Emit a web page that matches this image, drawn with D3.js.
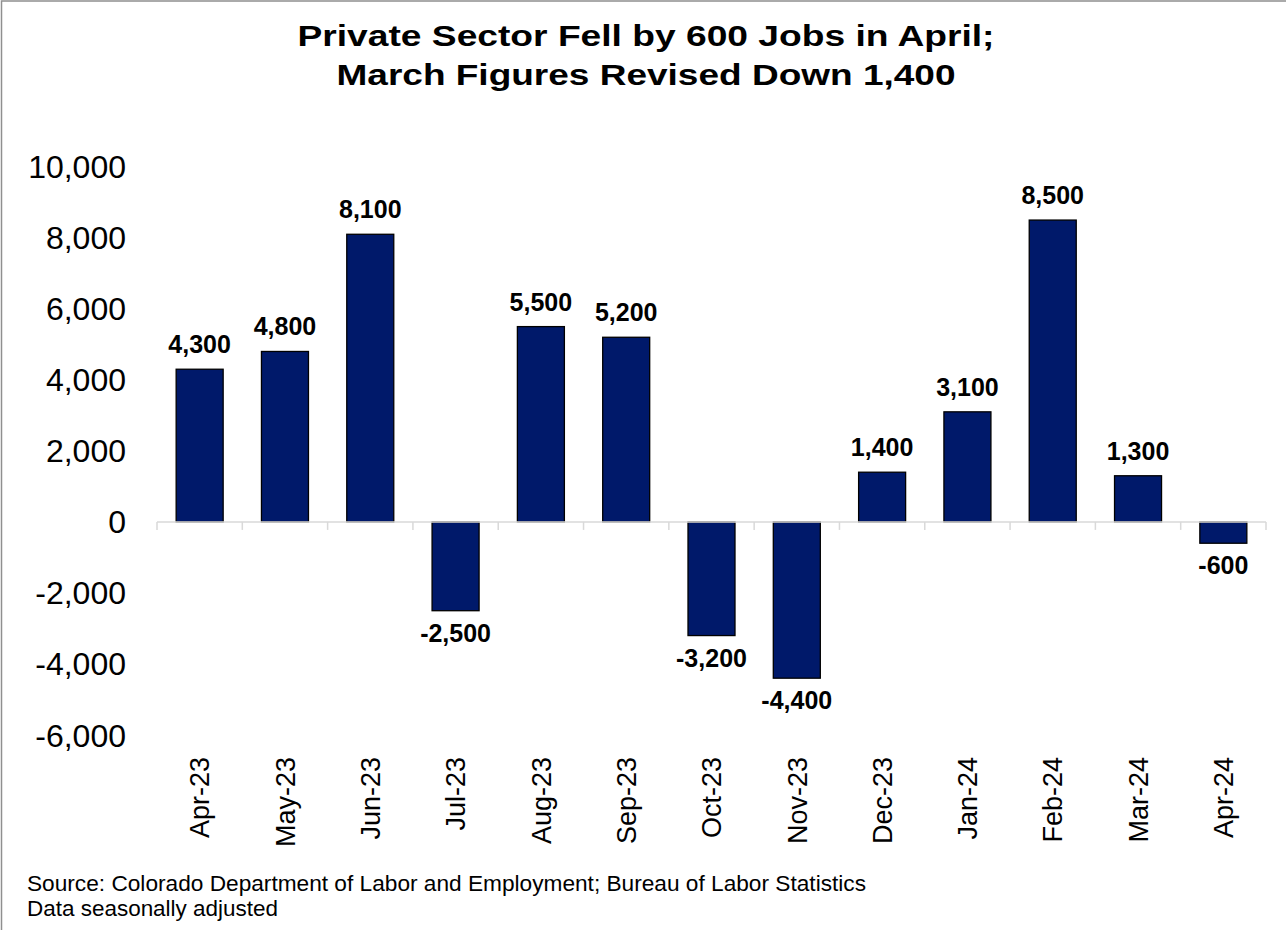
<!DOCTYPE html>
<html>
<head>
<meta charset="utf-8">
<script src="https://cdn.jsdelivr.net/npm/d3@7"></script>
<style>
  html, body { margin: 0; padding: 0; background: #fff; }
  svg { display: block; font-family: Arial, "Liberation Sans", sans-serif; }
</style>
</head>
<body>
<svg id="chart" width="1286" height="930"></svg>
<script>
const categories = ["Apr-23","May-23","Jun-23","Jul-23","Aug-23","Sep-23","Oct-23","Nov-23","Dec-23","Jan-24","Feb-24","Mar-24","Apr-24"];
const values = [4300, 4800, 8100, -2500, 5500, 5200, -3200, -4400, 1400, 3100, 8500, 1300, -600];
const yTicks = [-6000, -4000, -2000, 0, 2000, 4000, 6000, 8000, 10000];
const titleLines = ["Private Sector Fell by 600 Jobs in April;", "March Figures Revised Down 1,400"];
const footerLines = ["Source: Colorado Department of Labor and Employment; Bureau of Labor Statistics", "Data seasonally adjusted"];

const svg = d3.select("#chart");
const W = 1286, H = 930;

const loc = d3.formatLocale({decimal: ".", thousands: ",", grouping: [3], currency: ["$", ""], minus: "-"});
const fmt = loc.format(",");

// border (only left/top visible in reference)
svg.append("rect").attr("x", 1.5).attr("y", 1).attr("width", 1400).attr("height", 1100)
  .attr("fill", "#fff").attr("stroke", "#8f8f8f").attr("stroke-width", 1.5);

// title
const titleW = [697, 619];
svg.append("g").selectAll("text").data(titleLines).join("text")
  .attr("x", 646).attr("y", (d, i) => 46 + i * 38.5)
  .attr("text-anchor", "middle")
  .attr("font-size", 30).attr("font-weight", "bold").attr("fill", "#000")
  .attr("textLength", (d, i) => titleW[i]).attr("lengthAdjust", "spacingAndGlyphs")
  .text(d => d);

const x = d3.scaleBand().domain(categories).range([157, 1266]).padding(0);
const y = d3.scaleLinear().domain([-6000, 10000]).range([735, 166.8]);
const barW = x.bandwidth() * 0.551;

// y tick labels
svg.append("g").selectAll("text").data(yTicks).join("text")
  .attr("x", 126).attr("y", d => y(d)).attr("dy", "0.36em")
  .attr("text-anchor", "end").attr("font-size", 32).attr("fill", "#000")
  .text(d => fmt(d));

// bars
svg.append("g").selectAll("rect").data(values).join("rect")
  .attr("x", (d, i) => x(categories[i]) + (x.bandwidth() - barW) / 2)
  .attr("y", d => y(Math.max(0, d)))
  .attr("width", barW)
  .attr("height", d => Math.abs(y(d) - y(0)))
  .attr("fill", "#00196A").attr("stroke", "#000").attr("stroke-width", 1.3);

// x axis line at zero with ticks at band boundaries
const axisG = svg.append("g");
axisG.append("line").attr("x1", x.range()[0]).attr("x2", x.range()[1])
  .attr("y1", y(0)).attr("y2", y(0)).attr("stroke", "#d9d9d9").attr("stroke-width", 1.5);
const bounds = categories.map(c => x(c)).concat([x.range()[1]]);
axisG.selectAll("line.tk").data(bounds).join("line").attr("class", "tk")
  .attr("x1", d => d).attr("x2", d => d)
  .attr("y1", y(0)).attr("y2", y(0) + 8)
  .attr("stroke", "#d9d9d9").attr("stroke-width", 1.5);

// data labels
svg.append("g").selectAll("text").data(values).join("text")
  .attr("x", (d, i) => x(categories[i]) + x.bandwidth() / 2)
  .attr("y", d => d >= 0 ? y(d) - 16 : y(d) + 31)
  .attr("text-anchor", "middle").attr("font-size", 25).attr("font-weight", "bold").attr("fill", "#000")
  .text(d => fmt(d));

// x category labels (rotated)
svg.append("g").selectAll("text").data(categories).join("text")
  .attr("transform", d => `translate(${x(d) + x.bandwidth() / 2},757) rotate(-90)`)
  .attr("dy", "0.36em")
  .attr("text-anchor", "end").attr("font-size", 27).attr("fill", "#000")
  .text(d => d);

// footer
const footW = [839, 251];
svg.append("g").selectAll("text").data(footerLines).join("text")
  .attr("x", 27).attr("y", (d, i) => 891 + i * 25)
  .attr("font-size", 22).attr("fill", "#000")
  .attr("textLength", (d, i) => footW[i]).attr("lengthAdjust", "spacingAndGlyphs")
  .text(d => d);
</script>
</body>
</html>
